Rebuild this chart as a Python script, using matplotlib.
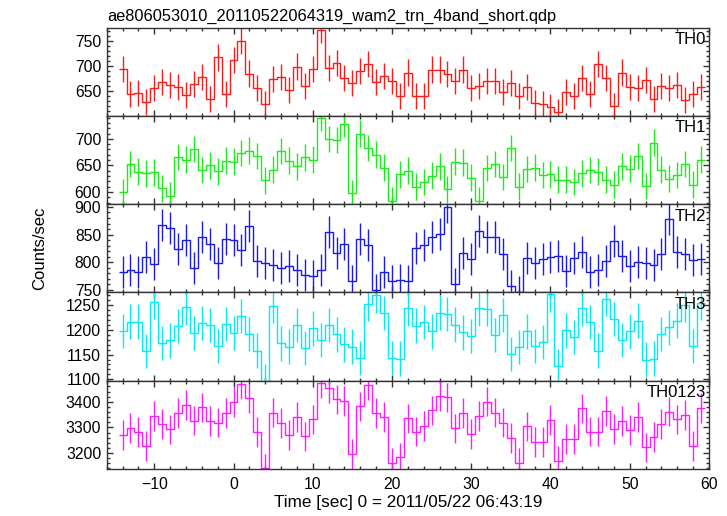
import numpy as np
import matplotlib
matplotlib.use("Agg")
from matplotlib import pyplot as plt
from matplotlib.ticker import MultipleLocator

# bin centres (1 s bins), seconds from 2011/05/22 06:43:19
time = np.arange(-14, 60)

th0 = [694, 645, 647, 628, 656, 668, 663, 658, 642, 665, 679, 635, 717, 645,
       712, 749, 685, 656, 625, 675, 679, 653, 699, 661, 694, 772, 696, 706,
       677, 667, 690, 704, 669, 680, 670, 640, 687, 641, 640, 693, 693, 684,
       671, 693, 656, 661, 671, 670, 649, 666, 640, 659, 626, 625, 619, 608,
       649, 641, 677, 645, 704, 677, 620, 687, 658, 656, 672, 634, 661, 656,
       663, 632, 644, 659]
th1 = [600, 653, 638, 635, 637, 607, 593, 666, 661, 681, 641, 650, 639, 659,
       657, 673, 678, 668, 622, 642, 677, 659, 648, 665, 661, 739, 700, 698,
       728, 598, 710, 683, 670, 646, 584, 633, 640, 610, 619, 631, 648, 605,
       657, 655, 627, 584, 645, 653, 628, 683, 610, 643, 646, 632, 633, 623,
       623, 619, 635, 641, 638, 623, 614, 648, 644, 668, 611, 693, 642, 625,
       632, 653, 614, 661]
th2 = [782, 786, 782, 810, 796, 867, 861, 823, 840, 790, 846, 833, 799, 842,
       841, 822, 865, 802, 798, 794, 790, 793, 786, 777, 774, 786, 854, 817,
       832, 765, 842, 831, 749, 782, 765, 768, 765, 826, 831, 846, 851, 900,
       760, 817, 805, 856, 845, 845, 815, 757, 746, 808, 799, 806, 810, 811,
       784, 808, 818, 782, 785, 802, 838, 811, 793, 801, 798, 795, 815, 879,
       818, 814, 804, 806]
th3 = [1198, 1217, 1217, 1157, 1257, 1174, 1179, 1208, 1246, 1194, 1214, 1210,
       1167, 1212, 1194, 1228, 1192, 1158, 1095, 1249, 1173, 1166, 1210, 1163,
       1203, 1180, 1210, 1191, 1171, 1166, 1143, 1253, 1270, 1234, 1143, 1142,
       1244, 1209, 1216, 1197, 1235, 1232, 1211, 1195, 1188, 1244, 1242, 1190,
       1230, 1151, 1165, 1197, 1167, 1176, 1272, 1126, 1199, 1186, 1244, 1216,
       1158, 1263, 1222, 1180, 1197, 1219, 1140, 1142, 1192, 1205, 1219, 1251,
       1167, 1255]
th0123 = [3271, 3297, 3283, 3229, 3344, 3313, 3292, 3355, 3386, 3327, 3378,
          3325, 3319, 3355, 3400, 3470, 3413, 3283, 3140, 3358, 3318, 3270,
          3342, 3265, 3331, 3474, 3455, 3409, 3403, 3195, 3382, 3465, 3355,
          3342, 3162, 3183, 3335, 3284, 3305, 3366, 3423, 3417, 3296, 3357,
          3275, 3344, 3401, 3358, 3319, 3258, 3162, 3304, 3242, 3242, 3329,
          3169, 3255, 3255, 3374, 3284, 3284, 3364, 3295, 3326, 3291, 3342,
          3222, 3264, 3313, 3362, 3331, 3347, 3229, 3377]

names = ["TH0", "TH1", "TH2", "TH3", "TH0123"]
series = [th0, th1, th2, th3, th0123]
errors = [26, 25, 29, 35, 58]
colors = ["#ff1a1a", "#1aee1a", "#1a1aee", "#00eeee", "#ff1aff"]
ylims = [(601, 776), (577, 743), (745, 905), (1097, 1276), (3138, 3482)]
ymajor = [50, 50, 50, 50, 100]
yminor = [10, 10, 10, 10, 20]

plt.rcParams["font.family"] = ["Liberation Sans", "DejaVu Sans"]
plt.rcParams["font.size"] = 11.3

fig, axes = plt.subplots(5, 1, sharex=True, figsize=(7.27, 5.16), dpi=100)
plt.subplots_adjust(left=0.1468, right=0.9752, top=0.9463, bottom=0.0911, hspace=0)

edges = np.append(time - 0.5, time[-1] + 0.5)
for ax, name, vals, err, col, yl, ma, mi in zip(axes, names, series, errors, colors,
                                                ylims, ymajor, yminor):
    ax.stairs(vals, edges, color=col, linewidth=1.0, baseline=None)
    ax.errorbar(time, vals, yerr=err, fmt="none", ecolor=col, elinewidth=1.0)
    ax.set_ylim(yl)
    ax.set_xlim(-16, 60)
    ax.xaxis.set_major_locator(MultipleLocator(10))
    ax.xaxis.set_minor_locator(MultipleLocator(2))
    ax.yaxis.set_major_locator(MultipleLocator(ma))
    ax.yaxis.set_minor_locator(MultipleLocator(mi))
    ax.tick_params(which="both", direction="in", top=True, right=True,
                   color="#333333", width=1.0)
    ax.tick_params(which="major", length=4.5)
    ax.tick_params(which="minor", length=2.2)
    ax.tick_params(axis="x", pad=6)
    ax.tick_params(axis="y", pad=4)
    for sp in ax.spines.values():
        sp.set_color("#333333")
        sp.set_linewidth(1.0)
    ax.text(0.995, 0.95, name, transform=ax.transAxes, ha="right", va="top",
            fontsize=12)

fig.text(107 / 727, 1 - 21 / 516, "ae806053010_20110522064319_wam2_trn_4band_short.qdp",
         ha="left", va="baseline", fontsize=11.8)
fig.text(40 / 727, 1 - 248 / 516, "Counts/sec", rotation=90, ha="center", va="center",
         fontsize=12)
axes[-1].set_xlabel("Time [sec] 0 = 2011/05/22 06:43:19", fontsize=12.3, labelpad=2)

plt.savefig("out.png", dpi=100)
plt.close()
